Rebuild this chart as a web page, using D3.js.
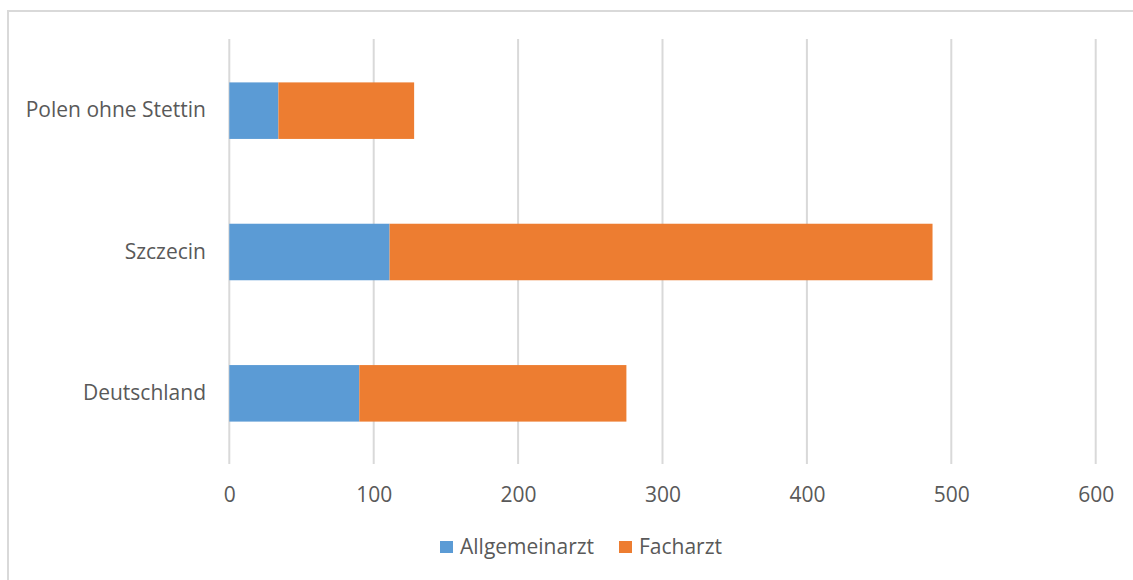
<!DOCTYPE html>
<html>
<head>
  <meta charset="utf-8">
  <style>
  body { margin: 0; background: #fff; }
  text { font-family: "Open Sans", "Noto Sans", sans-serif; fill: #595959; }
  .grid line { stroke: #d9d9d9; stroke-width: 2px; }
  </style>
</head>
<body>
<svg width="1133" height="580"></svg>
<script src="https://d3js.org/d3.v7.min.js"></script>
<script>

var categories = ["Polen ohne Stettin", "Szczecin", "Deutschland"];
var allgemeinarzt = [34, 111, 90];
var facharzt = [94, 376, 185];
var seriesNames = ["Allgemeinarzt", "Facharzt"];
var colors = ["#5b9bd5", "#ed7d31"];
var xTicks = [0, 100, 200, 300, 400, 500, 600];

var svg = d3.select("svg");

// chart area outline (only top/left visible in the crop)
svg.append("rect")
    .attr("x", 8).attr("y", 11)
    .attr("width", 1140).attr("height", 590)
    .attr("fill", "none")
    .attr("stroke", "#d9d9d9")
    .attr("stroke-width", 2);

var x = d3.scaleLinear().domain([0, 600]).range([229.3, 1095.7]);
var y = d3.scaleBand().domain(categories).range([40, 464]).paddingInner(0.6).paddingOuter(0.3);

var table = categories.map(function(c, i) {
  return { cat: c, Allgemeinarzt: allgemeinarzt[i], Facharzt: facharzt[i] };
});
var stacked = d3.stack().keys(seriesNames)(table);

// gridlines
svg.append("g")
    .attr("class", "grid")
  .selectAll("line")
  .data(xTicks)
  .enter().append("line")
    .attr("x1", function(d) { return x(d); })
    .attr("x2", function(d) { return x(d); })
    .attr("y1", 39)
    .attr("y2", 464);

svg.append("g")
  .selectAll("g")
  .data(stacked)
  .enter().append("g")
    .attr("fill", function(d, i) { return colors[i]; })
  .selectAll("rect")
  .data(function(d) { return d; })
  .enter().append("rect")
    .attr("x", function(d) { return x(d[0]); })
    .attr("width", function(d) { return x(d[1]) - x(d[0]); })
    .attr("y", function(d) { return y(d.data.cat); })
    .attr("height", y.bandwidth());

// x axis labels
var xAxis = svg.append("g")
    .attr("transform", "translate(0,464)")
    .call(d3.axisBottom(x).tickValues(xTicks).tickSize(0).tickPadding(0));
xAxis.select(".domain").remove();
xAxis.selectAll("text")
    .attr("dy", null)
    .attr("y", 38)
    .style("font-size", "21px");

// y axis labels
var yAxis = svg.append("g")
    .attr("transform", "translate(206,0)")
    .call(d3.axisLeft(y).tickSize(0).tickPadding(0));
yAxis.select(".domain").remove();
yAxis.selectAll("text")
    .style("font-size", "21px");

// legend
var legend = svg.append("g")
  .selectAll("g")
  .data(seriesNames)
  .enter().append("g")
    .attr("transform", function(d, i) { return "translate(" + [440, 619][i] + ",541)"; });
legend.append("rect")
    .attr("width", 13).attr("height", 12)
    .attr("fill", function(d, i) { return colors[i]; });
legend.append("text")
    .attr("x", 20).attr("y", 6)
    .attr("dy", "0.35em")
    .style("font-size", "21px")
    .text(function(d) { return d; });

</script>
</body>
</html>
